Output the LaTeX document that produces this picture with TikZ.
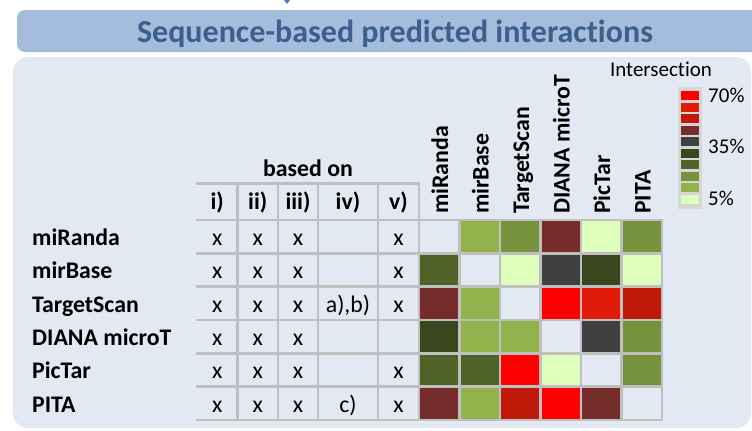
\documentclass[tikz,border=0pt]{standalone}
\usepackage{fontspec}
\setmainfont[Ligatures={NoCommon}]{Carlito}
\definecolor{bannerbg}{HTML}{A4BDDC}
\definecolor{panelbg}{HTML}{E2E9F3}
\definecolor{titleblue}{HTML}{3C5F8C}
\definecolor{arrowblue}{HTML}{4A7EBB}
\definecolor{gridgray}{HTML}{BFBFBF}
\definecolor{legendgray}{HTML}{D6D6D6}
\definecolor{cA}{HTML}{FF0000}
\definecolor{cB}{HTML}{E01B08}
\definecolor{cC}{HTML}{C0190A}
\definecolor{cD}{HTML}{772C2C}
\definecolor{cE}{HTML}{404040}
\definecolor{cF}{HTML}{3A461E}
\definecolor{cG}{HTML}{4F6228}
\definecolor{cH}{HTML}{76923C}
\definecolor{cI}{HTML}{92B24C}
\definecolor{cJ}{HTML}{DDFFBB}
\definecolor{cN}{HTML}{E2E9F3}
\tikzset{
  rowlab/.style={anchor=base west, inner sep=0pt, font=\bfseries\fontsize{23.8bp}{27bp}\selectfont},
  colhead/.style={anchor=base west, inner sep=0pt, rotate=90, font=\bfseries\fontsize{23.8bp}{27bp}\selectfont},
  crit/.style={anchor=base, inner sep=0pt, font=\bfseries\fontsize{23.8bp}{27bp}\selectfont},
  xmark/.style={anchor=base, inner sep=0pt, font=\fontsize{23.8bp}{27bp}\selectfont},
  leglab/.style={anchor=base west, inner sep=0pt, font=\fontsize{21bp}{24bp}\selectfont},
  gridline/.style={draw=gridgray, line width=2.8bp, line cap=rect},
}
\begin{document}
\begin{tikzpicture}[x=1bp,y=-1bp]
\clip (0,0) rectangle (752,430);
\fill[white] (0,0) rectangle (752,430);
% top arrow tip
\fill[arrowblue] (284,0) -- (290,0) -- (287,4) -- cycle;
% banner
\fill[bannerbg, rounded corners=8bp] (17,10) rectangle (770,52);
\node[anchor=base, inner sep=0pt, text=titleblue, font=\bfseries\fontsize{32bp}{36bp}\selectfont] (title) at (395,42) {Sequence-based predicted interactions};
% panel
\fill[panelbg, rounded corners=15bp] (13,57) rectangle (751,428);

% heat map cells
\def\xs{{419,459.5,500,540.5,581,621.5,662}}
\def\ys{{220,253.33,286.67,320,353.33,386.67,420}}
\foreach \r/\cols in {0/{cN,cI,cH,cD,cJ,cH},1/{cG,cN,cJ,cE,cF,cJ},2/{cD,cI,cN,cA,cB,cC},3/{cF,cI,cI,cN,cE,cH},4/{cG,cG,cA,cJ,cN,cH},5/{cD,cI,cC,cA,cD,cN}}{
  \foreach \col [count=\c from 0] in \cols {
    \pgfmathsetmacro{\xa}{\xs[\c]}
    \pgfmathsetmacro{\xb}{\xs[\c+1]}
    \pgfmathsetmacro{\ya}{\ys[\r]}
    \pgfmathsetmacro{\yb}{\ys[\r+1]}
    \fill[\col] (\xa,\ya) rectangle (\xb,\yb);
  }
}
% grid lines
\draw[gridline] (197,183.5) -- (419,183.5);
\foreach \y in {220,253.33,286.67,320,353.33,386.67,420} {
  \draw[gridline] (197,\y) -- (662,\y);
}
\foreach \x in {237.5,278,318,378,419} {
  \draw[gridline] (\x,183.5) -- (\x,420);
}
\foreach \x in {459.5,500,540.5,581,621.5,662} {
  \draw[gridline] (\x,220) -- (\x,420);
}

% "based on" header
\node[crit] (basedon) at (308,176) {based on};
\node[crit] (hi) at (217.25,209.5) {i)};
\node[crit] (hii) at (257.75,209.5) {ii)};
\node[crit] (hiii) at (298,209.5) {iii)};
\node[crit] (hiv) at (348,209.5) {iv)};
\node[crit] (hv) at (398.5,209.5) {v)};

% column headers
\node[colhead] (cmiranda) at (448,214) {miRanda};
\node[colhead] (cmirbase) at (488.5,214) {mirBase};
\node[colhead] (ctarget) at (529,214) {TargetScan};
\node[colhead] (cdiana) at (569.5,214) {DIANA microT};
\node[colhead] (cpictar) at (610,214) {PicTar};
\node[colhead] (cpita) at (650.5,214) {PITA};

% row labels
\node[rowlab] (rmiranda) at (32,245.5) {miRanda};
\node[rowlab] (rmirbase) at (32,278.8) {mirBase};
\node[rowlab] (rtarget) at (32,312.1) {TargetScan};
\node[rowlab] (rdiana) at (32,345.5) {DIANA microT};
\node[rowlab] (rpictar) at (32,378.8) {PicTar};
\node[rowlab] (rpita) at (32,412.1) {PITA};

% x marks
\foreach \yb [count=\i] in {245.5,278.8,312.1,345.5,378.8,412.1} {
  \node[xmark] (m\i a) at (217.25,\yb) {x};
  \node[xmark] (m\i b) at (257.75,\yb) {x};
  \node[xmark] (m\i c) at (298,\yb) {x};
}
\node[xmark] (m1v) at (398.5,245.5) {x};
\node[xmark] (m2v) at (398.5,278.8) {x};
\node[xmark] (m3iv) at (348,312.1) {a),b)};
\node[xmark] (m3v) at (398.5,312.1) {x};
\node[xmark] (m5v) at (398.5,378.8) {x};
\node[xmark] (m6iv) at (348,412.1) {c)};
\node[xmark] (m6v) at (398.5,412.1) {x};

% legend
\node[anchor=base, inner sep=0pt, font=\fontsize{21bp}{24bp}\selectfont] (legtitle) at (661,76) {Intersection};
\fill[legendgray] (678,87) rectangle (701.5,209);
\foreach \col [count=\k from 0] in {cA,cB,cC,cD,cE,cF,cG,cH,cI,cJ} {
  \fill[\col] (681,91+11.56*\k) rectangle (698.5,100+11.56*\k);
}
\node[leglab] (l70) at (708,102.5) {70\%};
\node[leglab] (l35) at (708,153) {35\%};
\node[leglab] (l5) at (708,205) {5\%};
\end{tikzpicture}
\end{document}
